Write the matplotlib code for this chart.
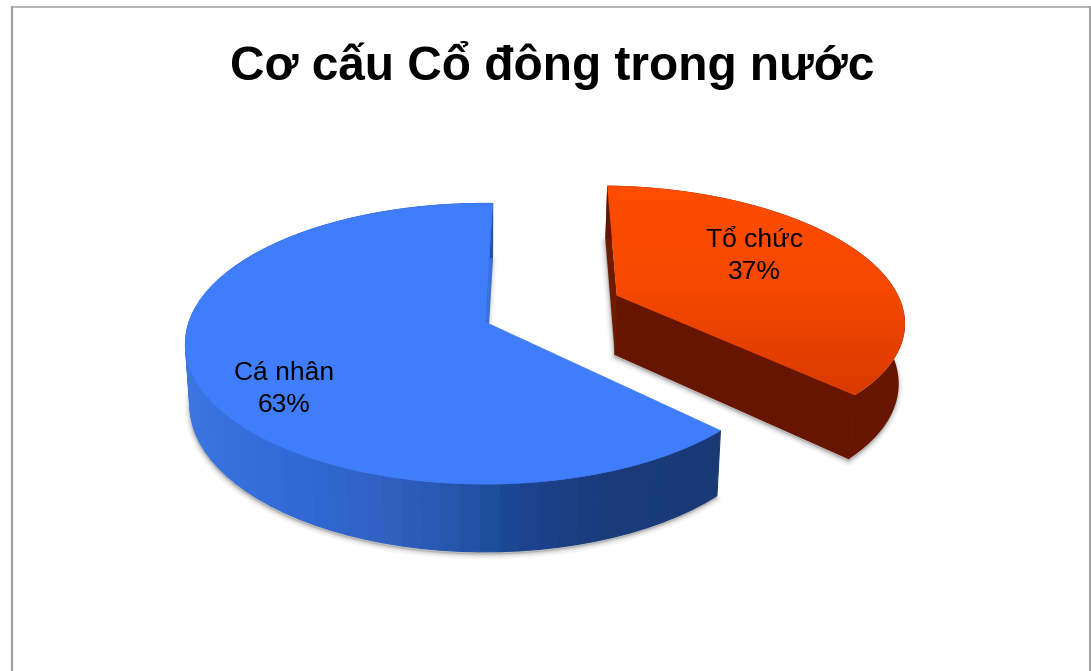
import numpy as np
import matplotlib
matplotlib.use("Agg")
import matplotlib.pyplot as plt
from matplotlib.colors import LinearSegmentedColormap, to_rgb
from matplotlib.patches import Polygon

plt.rcParams["font.family"] = ["Liberation Sans", "DejaVu Sans"]

title = "Cơ cấu Cổ đông trong nước"
labels = ["Cá nhân", "Tổ chức"]
values = [63, 37]

# pie geometry in pixels
cx, cy = 485, 322
rx, ry = 296, 137
persp = 0.155
depth = 60
explode = 0.494
rotation = 1.7
bottom_scale = 0.985
orange_radius = 0.98


def project(x, y, lower=False):
    d = 1 + persp * y
    sx = rx * x / d
    sy = ry * y / d
    if lower:
        return cx + sx * bottom_scale, cy - sy * 0.98 + depth / d
    return cx + sx, cy - sy


def outline(start, end, ox=0.0, oy=0.0, r=1.0, n=200):
    # angles are clockwise from 12 o'clock, in degrees
    t = np.radians(np.linspace(start, end, n))
    return r * np.sin(t) + ox, r * np.cos(t) + oy


def blend(stops, colors, pos):
    rgb = np.array([to_rgb(c) for c in colors])
    return [np.interp(pos, stops, rgb[:, i]) for i in range(3)]


def wall(ax, xs, ys, color, zorder=3, lw=0.8):
    xa, ya = project(xs, ys)
    xb, yb = project(xs[::-1], ys[::-1], lower=True)
    ax.fill(np.r_[xa, xb], np.r_[ya, yb], color=color, lw=lw, zorder=zorder)


fig = plt.figure(figsize=(10.91, 6.71), dpi=100)
ax = fig.add_axes([0, 0, 1, 1])
ax.set_xlim(0, 1091)
ax.set_ylim(671, 0)
ax.axis("off")

# frame, the bottom side is cut off in the original
ax.plot([12, 12], [671, 6.5], color="#a0a0a0", lw=1.6, zorder=1)
ax.plot([12, 1090], [6.5, 6.5], color="#a8a8a8", lw=1.2, zorder=1)
ax.plot([1090, 1090], [6.5, 671], color="#a0a0a0", lw=1.4, zorder=1)

ax.text(552, 65, title, fontsize=34.4, fontweight="bold", ha="center", va="center", color="black")

sweep = np.array(values) / sum(values) * 360
blue_start = rotation - sweep[0]
orange_end = rotation + sweep[1]
mid = np.radians(rotation + sweep[1] / 2)
ox, oy = explode * np.sin(mid), explode * np.cos(mid) + 0.015
top_x, top_y = np.sin(np.radians(rotation)), np.cos(np.radians(rotation))
end_x, end_y = np.sin(np.radians(orange_end)), np.cos(np.radians(orange_end))

slices = [
    (blue_start, rotation, 0.0, 0.0, 1.0),
    (rotation, orange_end, ox, oy, orange_radius),
]

# soft shadow under both slices
for start, end, dx, dy, r in slices:
    ux, uy = outline(start, end, dx, dy, r)
    sx, sy = project(np.r_[dx, ux], np.r_[dy, uy], lower=True)
    for lw, a in [(7, 0.05), (5, 0.07), (3, 0.1), (1.5, 0.14)]:
        ax.add_patch(Polygon(np.c_[sx - 0.5, sy + 2.5], closed=True, fc="#777777", ec="#777777",
                             lw=lw, alpha=a, zorder=2, joinstyle="round"))

# blue slice side walls
wall(ax, np.array([0, top_x]), np.array([0, top_y]), "#3a70da")
ux, uy = outline(blue_start, rotation, n=70)
for i in range(len(ux) - 1):
    px = project(ux[i], uy[i])[0]
    c = blend([190, 300, 400, 470, 510, 530, 600, 720],
              ["#3a75e0", "#3169d6", "#2f60c0", "#2453aa", "#1a4c96", "#1c4290", "#1a3b7c", "#193975"], px)
    wall(ax, ux[i:i + 2], uy[i:i + 2], c)

# orange slice side walls, no stroke on the curved one or it shows round the top face
wall(ax, orange_radius * np.array([top_x, 0]) + ox, orange_radius * np.array([top_y, 0]) + oy, "#701a00", lw=0)
ux, uy = outline(rotation, orange_end, ox, oy, orange_radius, n=80)
wall(ax, ux, uy, "#671500", lw=0)
wall(ax, orange_radius * np.array([0, end_x]) + ox, orange_radius * np.array([0, end_y]) + oy, "#671500")

# top faces
ux, uy = outline(blue_start, rotation)
sx, sy = project(np.r_[0, ux], np.r_[0, uy])
ax.fill(sx, sy, color="#3f7dfa", lw=0.5, zorder=4)

ux, uy = outline(rotation, orange_end, ox, oy, orange_radius)
sx, sy = project(np.r_[ox, ux], np.r_[oy, uy])
poly = Polygon(np.c_[sx, sy], closed=True, fc="none", ec="none", zorder=4)
ax.add_patch(poly)
cmap = LinearSegmentedColormap.from_list("top", ["#ff4d00", "#f54800", "#d93a00"])
grad = np.linspace(0, 1, 256).reshape(-1, 1)
im = ax.imshow(grad, cmap=cmap, extent=[sx.min(), sx.max(), sy.max(), sy.min()],
               aspect="auto", zorder=4, interpolation="bilinear")
im.set_clip_path(poly)
ax.set_xlim(0, 1091)
ax.set_ylim(671, 0)

ax.text(284, 389, f"{labels[0]}\n{values[0]}%", fontsize=19, ha="center", va="center",
        linespacing=1.38, zorder=5)
ax.text(754, 256, f"{labels[1]}\n{values[1]}%", fontsize=19, ha="center", va="center",
        linespacing=1.38, zorder=5)

fig.savefig("out.png", dpi=100, facecolor="white")
plt.close(fig)
